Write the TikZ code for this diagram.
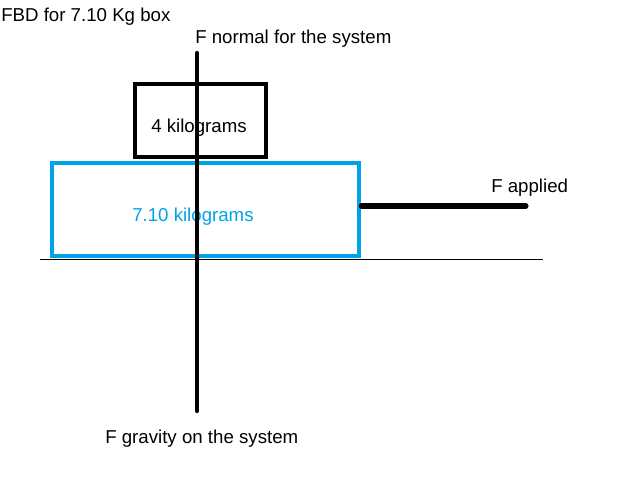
\documentclass[tikz,border=0pt]{standalone}
\usepackage{fontspec}
\setmainfont{Liberation Sans}
\definecolor{paintblue}{RGB}{0,162,232}
\usepackage{tikz}
\usetikzlibrary{positioning,calc}

\tikzset{
  lbl/.style={inner sep=0pt, anchor=base west, font=\fontsize{14}{17}\selectfont},
  box/.style={draw, line width=3.4pt, inner sep=0pt},
  force/.style={line width=3.2pt, line cap=round},
}

\begin{document}
\begin{tikzpicture}[x=0.75pt,y=-0.75pt]
                \useasboundingbox (0,0) rectangle (620,494);
                % Boxes
                \node[box, minimum width=98.25pt, minimum height=54.75pt] (small) at (200.5,120.5) {};
                \node[box, draw=paintblue, minimum width=230.25pt, minimum height=69.75pt] (big) at (205.5,209.5) {};
                \node[lbl] (smalltxt) at (151,132) {4 kilograms};
                \node[lbl, text=paintblue] (bigtxt) at (132,221) {7.10 kilograms};
                
                % Labels
                \node[lbl] (title) at (1,21) {FBD for 7.10 Kg box};
                \node[lbl] (normal) at (195,43) {F normal for the system};
                \node[lbl] (applied) at (491,192) {F applied};
                \node[lbl] (gravity) at (105,443) {F gravity on the system};
                
                % Ground
                \coordinate (gl) at (40,259.5);
                \coordinate (gr) at (543,259.5);
                \draw[line width=1.3pt] (gl) -- (gr);
                
                % Forces
                \coordinate (ntop) at (197,53);
                \coordinate (gbot) at (197,411);
                \coordinate (aend) at (526,206);
                \draw[force] (ntop) -- (gbot);
                \draw[force, line width=3.8pt] (big.east |- aend) -- (aend);
            \end{tikzpicture}
\end{document}
